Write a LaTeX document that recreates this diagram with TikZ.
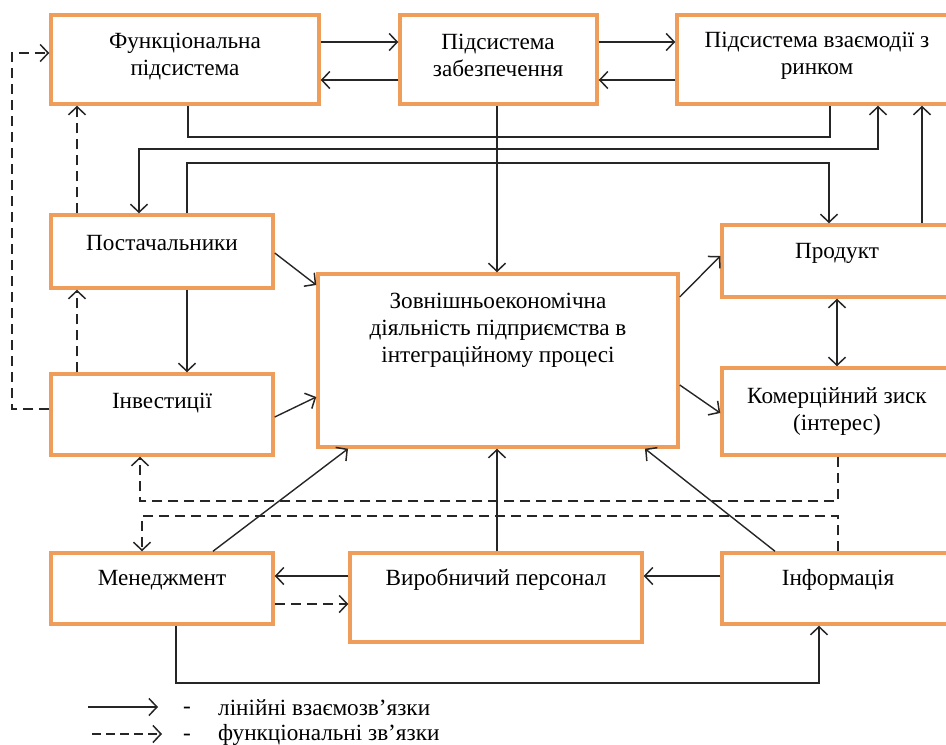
\documentclass[tikz,border=0pt]{standalone}
\usepackage{fontspec}
\setmainfont{Liberation Serif}
\usetikzlibrary{arrows.meta}
\definecolor{boxorange}{RGB}{238,157,90}
\tikzset{
  box/.style={draw=boxorange, line width=3.5pt, fill=white, rectangle, inner sep=0pt},
  txt/.style={align=center, font=\fontsize{23.2}{27}\selectfont, inner sep=0pt},
  conn/.style={line width=1.4pt, draw=black!85},
  arr/.style={conn, -{Straight Barb[length=8pt,width=17pt,line width=1.5pt]}},
  arrtwo/.style={conn, {Straight Barb[length=8pt,width=17pt,line width=1.5pt]}-{Straight Barb[length=8pt,width=17pt,line width=1.5pt]}},
  darr/.style={arr, dash pattern=on 10pt off 6pt},
}
\begin{document}
\begin{tikzpicture}[x=1pt,y=-1pt]
\useasboundingbox (0,0) rectangle (946,745);
\begin{scope}
\clip (0,0) rectangle (946,745);
% boxes
\node[box, minimum width=268pt, minimum height=89pt] (F) at (185,59.5) {};
\node[box, minimum width=197pt, minimum height=89pt] (Z) at (498.5,59.5) {};
\node[box, minimum width=273pt, minimum height=89pt] (R) at (813.5,59.5) {};
\node[box, minimum width=222pt, minimum height=73pt] (P) at (162,251.5) {};
\node[box, minimum width=222pt, minimum height=81pt] (I) at (162,414.5) {};
\node[box, minimum width=360pt, minimum height=173pt] (C) at (498,360.5) {};
\node[box, minimum width=228pt, minimum height=72pt] (Pr) at (836,261) {};
\node[box, minimum width=228pt, minimum height=87pt] (K) at (836,411.5) {};
\node[box, minimum width=222pt, minimum height=71pt] (M) at (162,588.5) {};
\node[box, minimum width=292pt, minimum height=89pt] (V) at (496,597.5) {};
\node[box, minimum width=228pt, minimum height=71pt] (Inf) at (836,588.5) {};
\end{scope}
% texts
\node[txt] (tF) at (185,57) {Функціональна\\підсистема};
\node[txt] (tZ) at (498,55) {Підсистема\\забезпечення};
\node[txt] (tR) at (817,56) {Підсистема взаємодії з\\ринком};
\node[txt] (tP) at (162,243) {Постачальники};
\node[txt] (tI) at (162,403) {Інвестиції};
\node[txt] (tC) at (498,330) {Зовнішньоекономічна\\діяльність підприємства в\\інтеграційному процесі};
\node[txt] (tPr) at (837,253) {Продукт};
\node[txt] (tK) at (837,412) {Комерційний зиск\\(інтерес)};
\node[txt] (tM) at (162,580) {Менеджмент};
\node[txt] (tV) at (496,580) {Виробничий персонал};
\node[txt] (tInf) at (838,580) {Інформація};
% top row connectors
\draw[arr] (F.east |- 0,42) -- (Z.west |- 0,42);
\draw[arr] (Z.west |- 0,80) -- (F.east |- 0,80);
\draw[arr] (Z.east |- 0,42) -- (R.west |- 0,42);
\draw[arr] (R.west |- 0,80) -- (Z.east |- 0,80);
% long lines
\draw[conn] (F.south -| 188,0) |- (830,137) -- (R.south -| 830,0);
\draw[arrtwo] (P.north -| 139,0) |- (878,149) -- (R.south -| 878,0);
\draw[arr] (P.north -| 187,0) |- (829,163) -- (Pr.north -| 829,0);
\draw[arr] (Z.south -| 497,0) -- (C.north -| 497,0);
\draw[arr] (Pr.north -| 922,0) -- (R.south -| 922,0);
% left side
\draw[darr] (I.west |- 0,409) -| (12,53) -- (F.west |- 0,53);
\draw[darr] (P.north -| 77,0) -- (F.south -| 77,0);
\draw[darr] (I.north -| 77,0) -- (P.south -| 77,0);
\draw[arr] (P.south -| 187,0) -- (I.north -| 187,0);
\draw[arr] (P.east |- 0,253) -- (C.west |- 0,285);
\draw[arr] (I.east |- 0,417) -- (C.west |- 0,397);
% right side
\draw[arr] (C.east |- 0,297) -- (Pr.west |- 0,256);
\draw[arr] (C.east |- 0,385) -- (K.west |- 0,413);
\draw[arrtwo] (Pr.south -| 837,0) -- (K.north -| 837,0);
% bottom
\draw[arr] (M.north -| 213,0) -- (C.south -| 348,0);
\draw[arr] (V.north -| 497,0) -- (C.south -| 497,0);
\draw[arr] (Inf.north -| 775,0) -- (C.south -| 645,0);
\draw[arr] (V.west |- 0,576) -- (M.east |- 0,576);
\draw[darr] (M.east |- 0,604) -- (V.west |- 0,604);
\draw[arr] (Inf.west |- 0,576) -- (V.east |- 0,576);
\draw[arr] (M.south -| 176,0) |- (819,683) -- (Inf.south -| 819,0);
\draw[darr] (K.south -| 838,0) |- (140,501) -- (I.south -| 140,0);
\draw[darr] (Inf.north -| 838,0) |- (142,516) -- (M.north -| 142,0);
% legend
\coordinate (la1) at (88,707);
\coordinate (lb1) at (158,707);
\coordinate (la2) at (92,734);
\coordinate (lb2) at (162,734);
\draw[arr] (la1) -- (lb1);
\draw[darr, dash pattern=on 9pt off 5pt] (la2) -- (lb2);
\node[txt] (d1) at (187,710) {-};
\node[txt] (d2) at (187,737) {-};
\node[txt, anchor=west] (lt1) at (218,708) {лінійні взаємозв’язки};
\node[txt, anchor=west] (lt2) at (218,735) {функціональні зв’язки};
\end{tikzpicture}
\end{document}
